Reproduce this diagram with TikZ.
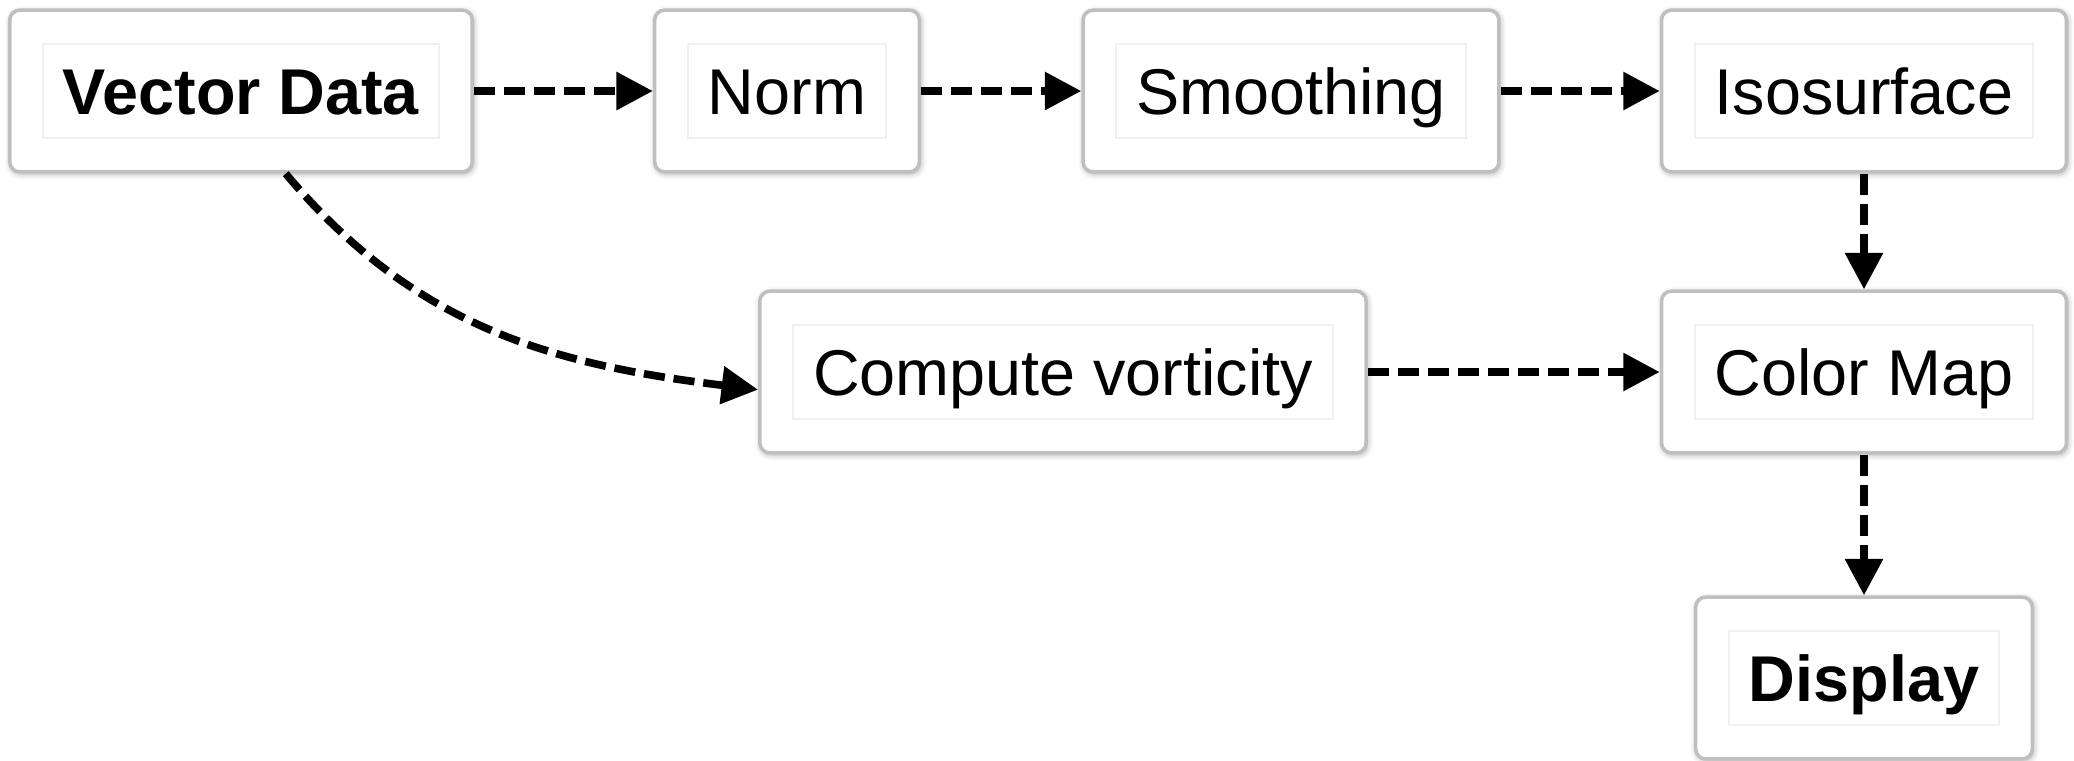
\documentclass[tikz,border=0pt]{standalone}
\usepackage{fontspec}
\setmainfont{Liberation Sans}
\usetikzlibrary{arrows.meta,fit,backgrounds,shadows.blur}
\tikzset{
  txt/.style={draw=black!6,line width=0.3pt,inner xsep=3.4pt,
              text height=7.9pt,text depth=0pt,minimum height=16pt,
              font=\fontsize{11}{13}\selectfont},
  txtb/.style={txt,font=\fontsize{11}{13}\selectfont\bfseries},
  box/.style={draw=black!25,fill=white,rounded corners=1.7pt,
              line width=0.6pt,inner xsep=5.5pt,inner ysep=5.6pt,
              blur shadow={shadow xshift=0.2pt,shadow yshift=-0.3pt,
                           shadow blur radius=1pt,shadow opacity=35}},
  fl/.style={-{Triangle[length=6.2pt,width=6.2pt]},line width=1.3pt,
             dash pattern=on 3.6pt off 1.5pt},
}
\begin{document}
\begin{tikzpicture}[x=0.17pt, y=-0.17pt]
  \useasboundingbox (0,0) rectangle (2074,760);
  % labels
  \node[txtb] (vdt) at (241,91) {Vector Data};
  \node[txt]  (nmt) at (787,91) {Norm};
  \node[txt]  (smt) at (1291,91) {Smoothing};
  \node[txt]  (ist) at (1864,91) {Isosurface};
  \node[txt]  (cvt) at (1063,372) {Compute vorticity};
  \node[txt]  (cmt) at (1864,372) {Color Map};
  \node[txtb] (dpt) at (1864,678) {Display};
  % frames
  \begin{scope}[on background layer]
    \foreach \n in {vd,nm,sm,is,cv,cm,dp}
      \node[box, fit=(\n t)] (\n) {};
  \end{scope}
  % flow
  \foreach \a/\b in {vd/nm,nm/sm,sm/is,is/cm,cv/cm,cm/dp}
    \draw[fl] (\a) -- (\b);
  \draw[fl] ([xshift=7.6pt]vd.south) to[out=-50,in=173] ([yshift=-3pt]cv.west);
\end{tikzpicture}
\end{document}
